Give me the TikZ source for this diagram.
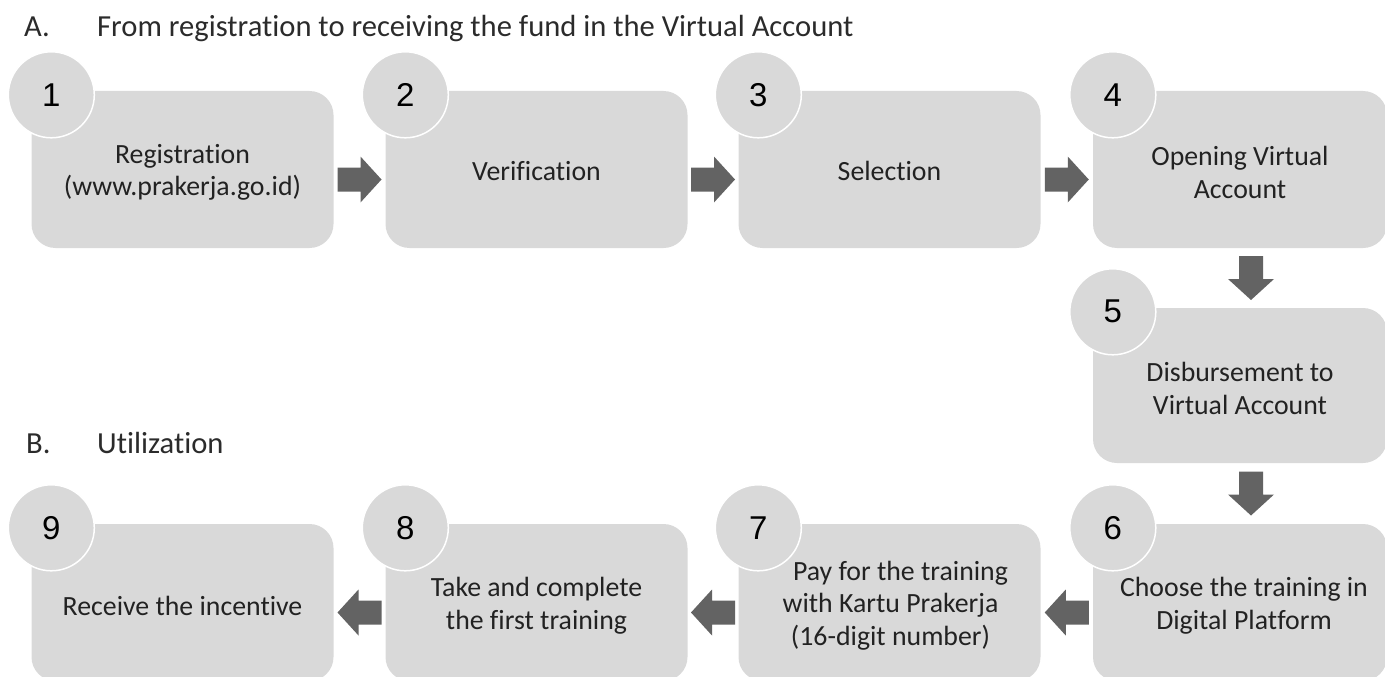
\documentclass[tikz,border=0pt]{standalone}
\usepackage{fontspec}
\setmainfont{Carlito}[Ligatures=CommonOff]
\newfontfamily\numfont{Liberation Sans}
\usetikzlibrary{calc}
\definecolor{boxgray}{HTML}{D9D9D9}
\definecolor{arrowgray}{HTML}{636363}
\definecolor{txtc}{HTML}{222222}
\definecolor{titlec}{HTML}{2B2B2B}
\newcommand\flowarrow[3]{%
  \path ($(#1)+(#3)$) coordinate (fa-a) ($(#2)+(#3)$) coordinate (fa-b);
  \path ($(fa-a)!0.5!(fa-b)$) coordinate (fa-m);
  \path ($(fa-m)!22pt!(fa-a)$) coordinate (fa-s) ($(fa-m)!22pt!(fa-b)$) coordinate (fa-t);
  \path ($(fa-t)!21pt!(fa-s)$) coordinate (fa-h);
  \fill[flowarrowfill] ($(fa-s)!12pt!90:(fa-t)$) -- ($(fa-h)!12pt!90:(fa-t)$)
    -- ($(fa-h)!23pt!90:(fa-t)$) -- (fa-t) -- ($(fa-h)!23pt!-90:(fa-t)$)
    -- ($(fa-h)!12pt!-90:(fa-t)$) -- ($(fa-s)!12pt!-90:(fa-t)$) -- cycle;
}
\begin{document}
\begin{tikzpicture}[x=1pt,y=-1pt,
  stepbox/.style={rectangle, rounded corners=24pt, fill=boxgray,
    minimum width=302pt, minimum height=157pt, inner sep=0pt},
  boxlabel/.style={inner sep=0pt, align=center, text=txtc,
    font=\fontsize{27.8}{32.5}\selectfont},
  numcirc/.style={circle, fill=boxgray, draw=white, line width=1.5pt,
    minimum size=86pt, inner sep=0pt, font=\numfont\fontsize{33}{33}\selectfont, text=black},
  titletext/.style={anchor=base west, inner sep=0pt, text=titlec, font=\fontsize{30.6}{33}\selectfont},
  flowarrowfill/.style={fill=arrowgray}]
\useasboundingbox (0,0) rectangle (1385,677);
\clip (0,0) rectangle (1385,677);

\node[titletext] (ta) at (24,37) {A.};
\node[titletext] (tat) at (97,37) {From registration to receiving the fund in the Virtual Account};
\node[titletext] (tb) at (26,453) {B.};
\node[titletext] (tbt) at (97,453) {Utilization};

\node[stepbox] (b1) at (182.5,169.5) {};
\node[stepbox] (b2) at (536.5,169.5) {};
\node[stepbox] (b3) at (889.5,169.5) {};
\node[stepbox, minimum width=294pt] (b4) at (1240,169.5) {};
\node[stepbox, minimum width=294pt, minimum height=155pt] (b5) at (1240,385.5) {};
\node[stepbox, minimum width=294pt] (b6) at (1240,602.5) {};
\node[stepbox] (b7) at (889.5,602.5) {};
\node[stepbox] (b8) at (536.5,602.5) {};
\node[stepbox] (b9) at (182.5,602.5) {};

\node[boxlabel] (l1) at ($(b1)+(0,3)$) {Registration\\(www.prakerja.go.id)};
\node[boxlabel] (l2) at ($(b2)+(0,2)$) {Verification};
\node[boxlabel] (l3) at ($(b3)+(0,1)$) {Selection};
\node[boxlabel] (l4) at ($(b4)+(0,3)$) {Opening Virtual\\Account};
\node[boxlabel] (l5) at ($(b5)+(0,3)$) {Disbursement to\\Virtual Account};
\node[boxlabel] (l6) at ($(b6)+(4,3)$) {Choose the training in\\Digital Platform};
\node[boxlabel] (l7) at ($(b7)+(1,3)$) {\hspace*{20pt}Pay for the training\\with Kartu Prakerja\\(16-digit number)};
\node[boxlabel] (l8) at ($(b8)+(0,3)$) {Take and complete\\the first training};
\node[boxlabel] (l9) at ($(b9)+(0,3)$) {Receive the incentive};

\foreach \i in {1,...,9} {
  \node[numcirc] (c\i) at ($(b\i.north west)+(20,4)$) {\i};
}

\flowarrow{b1.east}{b2.west}{0,10}
\flowarrow{b2.east}{b3.west}{0,10}
\flowarrow{b3.east}{b4.west}{0,10}
\flowarrow{b4.south}{b5.north}{11,0}
\flowarrow{b5.south}{b6.north}{11,0}
\flowarrow{b6.west}{b7.east}{0,10}
\flowarrow{b7.west}{b8.east}{0,10}
\flowarrow{b8.west}{b9.east}{0,10}
\end{tikzpicture}
\end{document}
